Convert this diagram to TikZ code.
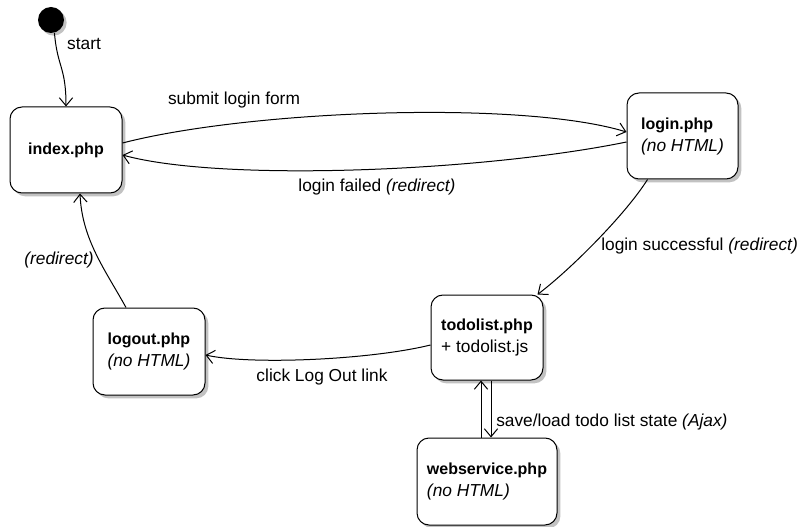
\documentclass[tikz,border=0pt]{standalone}
\usepackage{fontspec}
\setmainfont{Liberation Sans}
\usetikzlibrary{arrows.meta,shadows,calc}
\newcommand\statename[1]{{\fontsize{12}{16.5}\selectfont\bfseries #1}}
\begin{document}
\begin{tikzpicture}[x=0.75pt,y=-0.75pt,
  state/.style={draw, line width=0.75pt, rounded corners=9pt, fill=white, align=left,
    font=\fontsize{13}{16.5}\selectfont, inner sep=0pt,
    drop shadow={shadow xshift=2.5pt, shadow yshift=-2.5pt, fill=black!40, opacity=0.6}},
  conn/.style={line width=0.75pt, -{Straight Barb[length=6pt,width=10pt]}},
  lbl/.style={font=\fontsize{13}{16}\selectfont, inner sep=0pt},
]
\useasboundingbox (0,0) rectangle (799,527);

\node[circle, fill=black, minimum size=19.5pt, inner sep=0pt,
  drop shadow={shadow xshift=2pt, shadow yshift=-2pt, fill=black!40, opacity=0.6}] (start) at (51,20) {};

\node[state, minimum width=84pt, minimum height=64.5pt] (index) at (66,150) {\statename{index.php}};
\node[state, minimum width=83.25pt, minimum height=64.5pt] (login) at (682.5,136) {\statename{login.php}\\\textit{(no HTML)}};
\node[state, minimum width=84pt, minimum height=65.25pt] (logout) at (149,351.5) {\statename{logout.php}\\\textit{(no HTML)}};
\node[state, minimum width=84pt, minimum height=63.75pt] (todolist) at (487,337.5) {\statename{todolist.php}\\+ todolist.js};
\node[state, minimum width=105pt, minimum height=65.25pt] (webservice) at (487,481.5) {\statename{webservice.php}\\\textit{(no HTML)}};

% connectors
\draw[conn] (start.-75) .. controls +(3,35) and +(0,-40) .. (index.north);
\draw[conn] ($(index.east)+(0,-7)$) .. controls +(128,-33) and +(-105,-32) .. ($(login.west)+(0,-4)$);
\draw[conn] ($(login.west)+(0,6)$) .. controls +(-147,30) and +(98,27) .. ($(index.east)+(0,5)$);
\draw[conn] ($(login.south)+(-35,0)$) .. controls +(-22,35) and +(33,-25) .. ($(todolist.north east)+(-6,0)$);
\draw[conn] ($(todolist.west)+(0,7.5)$) .. controls +(-61,15) and +(45,10) .. ($(logout.east)+(0,3.5)$);
\draw[conn] ($(logout.north)+(-23,0)$) .. controls +(-21,-38) and +(2,46) .. ($(index.south)+(14,0)$);
\draw[conn] ($(webservice.north)+(-6,0)$) -- ($(todolist.south)+(-6,0)$);
\draw[conn] ($(todolist.south)+(4,0)$) -- ($(webservice.north)+(4,0)$);

% labels
\node[lbl] (lstart) at (84,44) {start};
\node[lbl] (lsubmit) at (234,100) {submit login form};
\node[lbl] (lfail) at (377,187) {login failed \textit{(redirect)}};
\node[lbl, anchor=west] (lsucc) at (601,246) {login successful \textit{(redirect)}};
\node[lbl] (lclick) at (322,377) {click Log Out link};
\node[lbl] (lredir) at (59,260) {\textit{(redirect)}};
\node[lbl, anchor=west] (lajax) at (496,422) {save/load todo list state \textit{(Ajax)}};
\end{tikzpicture}
\end{document}
